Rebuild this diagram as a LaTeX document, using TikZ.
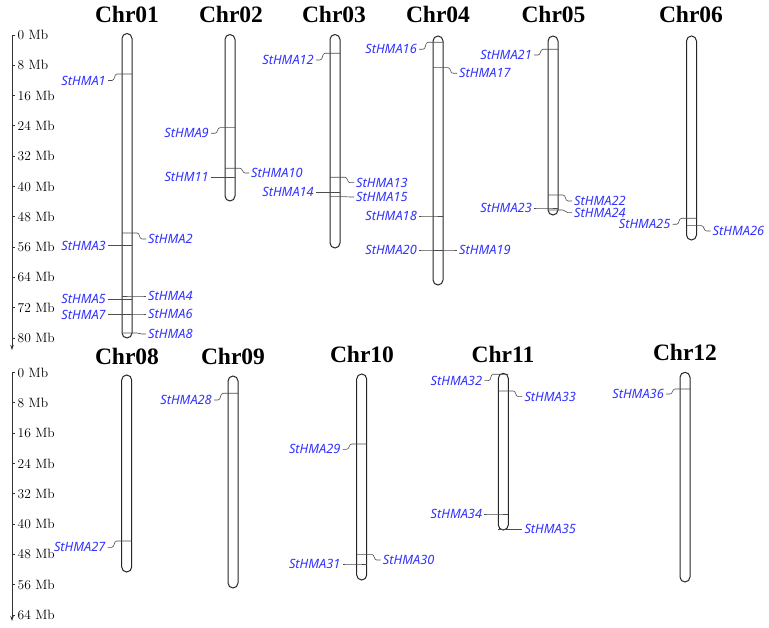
\documentclass[tikz,border=0pt]{standalone}
\usepackage{fontspec}
\newfontfamily\genefont{Noto Sans}
\newfontfamily\titlefont{Liberation Serif}
\usetikzlibrary{arrows.meta}
\definecolor{geneblue}{RGB}{50,50,255}
\tikzset{
  chrom/.style={draw=black!85, line width=1pt, rounded corners=5pt, minimum width=10pt, inner sep=0pt},
  chrtitle/.style={font=\titlefont\bfseries\fontsize{23.5}{26}\selectfont, inner sep=0pt},
  gene/.style={font=\genefont\itshape\fontsize{12.8}{15}\selectfont, text=geneblue, inner sep=2pt},
  mk/.style={draw=black!70, line width=0.6pt},
  scl/.style={font=\fontsize{13.5}{15}\selectfont, inner sep=1pt, anchor=west},
  axisline/.style={line width=0.8pt, draw=black!80},
}
\newcommand\chromo[4]{\node[chrom, minimum height={(#4-#3)*1pt}] (#1) at (#2,{(#3+#4)/2}) {};}
\newcommand\hmaL[5]{%
  \coordinate (#5a) at (#1+5,#2);
  \coordinate (#5b) at (#1-5,#2);
  \node[gene, anchor=east] (#5) at (#1-19,#3) {#4};
  \draw[mk] (#5a) -- (#5b) -- ++(-5,0) to[out=180,in=0] (#1-15,#3) -- (#5.east);
}
\newcommand\hmaR[5]{%
  \coordinate (#5a) at (#1-5,#2);
  \coordinate (#5b) at (#1+5,#2);
  \node[gene, anchor=west] (#5) at (#1+19,#3) {#4};
  \draw[mk] (#5a) -- (#5b) -- ++(5,0) to[out=0,in=180] (#1+15,#3) -- (#5.west);
}
\begin{document}
\begin{tikzpicture}[x=1pt,y=-1pt]
\useasboundingbox (0,0) rectangle (769,628);

% scale axes
\coordinate (axA) at (12,35);
\coordinate (axAe) at (12,350);
\draw[axisline, -{Stealth[length=5pt,width=3.5pt]}] (axA) -- (axAe);
\foreach \v [count=\i from 0] in {0,8,...,80} {
  \coordinate (tA\i) at (12,{35+\v*3.7875});
  \draw[axisline] (tA\i) -- ++(3,0);
  \node[scl] (sA\i) at (16.5,{35+\v*3.7875}) {\v\ Mb};
}
\coordinate (axB) at (12,372.5);
\coordinate (axBe) at (12,621);
\draw[axisline, -{Stealth[length=5pt,width=3.5pt]}] (axB) -- (axBe);
\foreach \v [count=\i from 0] in {0,8,...,64} {
  \coordinate (tB\i) at (12,{372.5+\v*3.789});
  \draw[axisline] (tB\i) -- ++(3,0);
  \node[scl] (sB\i) at (16.5,{372.5+\v*3.789}) {\v\ Mb};
}

% titles
\node[chrtitle] (t01) at (127,14.5) {Chr01};
\node[chrtitle] (t02) at (231,14.5) {Chr02};
\node[chrtitle] (t03) at (334,14.5) {Chr03};
\node[chrtitle] (t04) at (438,14.5) {Chr04};
\node[chrtitle] (t05) at (553.5,14.5) {Chr05};
\node[chrtitle] (t06) at (691,14.5) {Chr06};
\node[chrtitle] (t08) at (127,356) {Chr08};
\node[chrtitle] (t09) at (233,356.5) {Chr09};
\node[chrtitle] (t10) at (362,354.5) {Chr10};
\node[chrtitle] (t11) at (503,354.5) {Chr11};
\node[chrtitle] (t12) at (685,352.5) {Chr12};

% chromosomes
\chromo{c01}{127}{33.5}{338}
\chromo{c02}{230}{34.5}{201}
\chromo{c03}{335}{34.5}{248}
\chromo{c04}{438}{36}{285}
\chromo{c05}{553}{36}{215}
\chromo{c06}{691.5}{36}{240}
\chromo{c08}{126.7}{375}{572}
\chromo{c09}{233}{376}{588}
\chromo{c10}{361.7}{374}{580}
\chromo{c11}{503.3}{373.3}{530}
\chromo{c12}{685}{372.3}{582}

% genes Chr01
\hmaL{127}{74}{80.5}{StHMA1}{g1}
\hmaR{127}{233}{239}{StHMA2}{g2}
\hmaL{127}{245.7}{245.7}{StHMA3}{g3}
\hmaR{127}{296}{296}{StHMA4}{g4}
\hmaL{127}{299.3}{299.3}{StHMA5}{g5}
\hmaR{127}{314}{314}{StHMA6}{g6}
\hmaL{127}{314.5}{314.5}{StHMA7}{g7}
\hmaR{127}{333}{334}{StHMA8}{g8}
% Chr02
\hmaL{230}{127.7}{133.3}{StHMA9}{g9}
\hmaR{230}{168.3}{173}{StHMA10}{g10}
\hmaL{230}{177.3}{177.3}{StHM11}{g11}
% Chr03
\hmaL{335}{53.3}{60}{StHMA12}{g12}
\hmaR{335}{177.3}{182.7}{StHMA13}{g13}
\hmaL{335}{192.3}{192.3}{StHMA14}{g14}
\hmaR{335}{196.7}{197}{StHMA15}{g15}
% Chr04
\hmaL{438}{42.3}{49.3}{StHMA16}{g16}
\hmaR{438}{67.7}{73.3}{StHMA17}{g17}
\hmaL{438}{216}{216}{StHMA18}{g18}
\hmaR{438}{250}{250}{StHMA19}{g19}
\hmaL{438}{250}{250}{StHMA20}{g20}
% Chr05
\hmaL{553}{49.3}{55}{StHMA21}{g21}
\hmaR{553}{195}{201}{StHMA22}{g22}
\hmaL{553}{208}{208}{StHMA23}{g23}
\hmaR{553}{210}{212.7}{StHMA24}{g24}
% Chr06
\hmaL{691.5}{218.3}{224.3}{StHMA25}{g25}
\hmaR{691.5}{225.7}{231}{StHMA26}{g26}
% Chr08
\hmaL{126.7}{541}{547.3}{StHMA27}{g27}
% Chr09
\hmaL{233}{393.3}{400}{StHMA28}{g28}
% Chr10
\hmaL{361.7}{444}{449.3}{StHMA29}{g29}
\hmaR{361.7}{554.3}{560}{StHMA30}{g30}
\hmaL{361.7}{564}{564}{StHMA31}{g31}
% Chr11
\hmaL{503.3}{374.3}{380.7}{StHMA32}{g32}
\hmaR{503.3}{391}{396.7}{StHMA33}{g33}
\hmaL{503.3}{514}{514}{StHMA34}{g34}
\hmaR{503.3}{529.3}{529.3}{StHMA35}{g35}
% Chr12
\hmaL{685}{389}{394}{StHMA36}{g36}
\end{tikzpicture}
\end{document}
